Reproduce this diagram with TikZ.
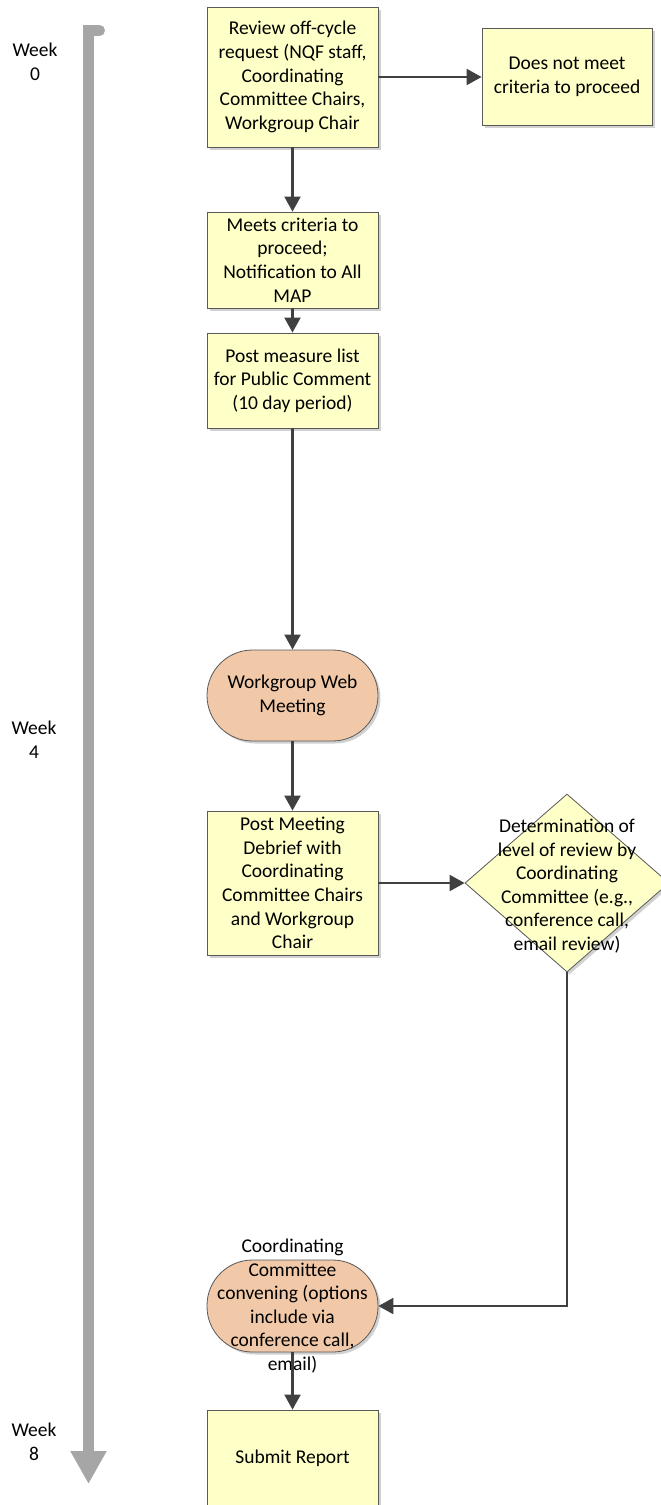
\documentclass[tikz,border=0pt]{standalone}
\usepackage{fontspec}
\setmainfont{Carlito}
\usetikzlibrary{arrows.meta,shapes.geometric,shadows}
\definecolor{boxyellow}{RGB}{255,255,200}
\definecolor{meetpeach}{RGB}{241,201,168}
\definecolor{flowgray}{RGB}{64,64,64}
\definecolor{timegray}{RGB}{166,166,166}
\begin{document}
\begin{tikzpicture}[x=1pt, y=-1pt, font=\fontsize{19.5}{23.6}\selectfont]
  \tikzstyle{every node}=[align=center, text=black]
  \tikzstyle{shade}=[drop shadow={shadow xshift=2.5pt, shadow yshift=-2.5pt, fill=black!30, opacity=0.6}]
  \tikzstyle{task}=[rectangle, draw=black!65, line width=0.8pt, fill=boxyellow, minimum width=171pt, shade]
  \tikzstyle{meeting}=[rectangle, rounded corners=45.5pt, draw=black!65, line width=0.8pt, fill=meetpeach, minimum width=171pt, minimum height=91pt, shade]
  \tikzstyle{decide}=[diamond, draw=black!65, line width=0.8pt, fill=boxyellow, minimum width=204pt, minimum height=178pt, inner sep=0pt, shade]
  \tikzstyle{flow}=[draw=flowgray, line width=2.2pt, -{Triangle[length=15pt,width=16pt]}]
  \tikzstyle{timeline}=[draw=timegray, line width=11pt, line cap=round, -{Triangle[length=33pt,width=34pt]}]
  \useasboundingbox (0,0) rectangle (661,1505);

  % week markers
  \node (wk0) at (35,62) {Week\\0};
  \node (wk4) at (34,740) {Week\\4};
  \node (wk8) at (34,1442) {Week\\8};
  \coordinate (tlstart) at (99.5,30.5);
  \coordinate (tlend) at (88.5,1484);
  \draw[timeline] (tlstart) -- (tlstart -| tlend) -- (tlend);

  % steps
  \node[task, minimum height=140pt] (review) at (292.5,77)
    {Review off-cycle\\request (NQF staff,\\Coordinating\\Committee Chairs,\\Workgroup Chair};
  \node[task, minimum width=170pt, minimum height=97pt] (nomeet) at (567,77)
    {Does not meet\\criteria to proceed};
  \node[task, minimum height=96pt] (meets) at (292.5,260)
    {Meets criteria to\\proceed;\\Notification to All\\MAP};
  \node[task, minimum height=95pt] (postlist) at (292.5,380.5)
    {Post measure list\\for Public Comment\\(10 day period)};
  \node[meeting] (webmeet) at (292.5,695.5) {Workgroup Web\\Meeting};
  \node[task, minimum height=144pt] (debrief) at (292.5,883)
    {Post Meeting\\Debrief with\\Coordinating\\Committee Chairs\\and Workgroup\\Chair};
  \node[decide] (determ) at (567,883) {};
  \node (determtext) at (567,886)
    {Determination of\\level of review by\\Coordinating\\Committee (e.g.,\\conference call,\\email review)};
  \node[meeting, minimum height=92pt] (convene) at (292.5,1306) {};
  \node (convenetext) at (292.5,1306)
    {Coordinating\\Committee\\convening (options\\include via\\conference call,\\email)};
  \node[task, minimum height=96pt] (submit) at (292.5,1458) {Submit Report};

  % connectors
  \draw[flow] (review) -- (nomeet);
  \draw[flow] (review) -- (meets);
  \draw[flow] (meets) -- (postlist);
  \draw[flow] (postlist) -- (webmeet);
  \draw[flow] (webmeet) -- (debrief);
  \draw[flow] (debrief) -- (determ);
  \draw[flow] (determ.south) |- (convene.east);
  \draw[flow] (convene) -- (submit);
\end{tikzpicture}
\end{document}
